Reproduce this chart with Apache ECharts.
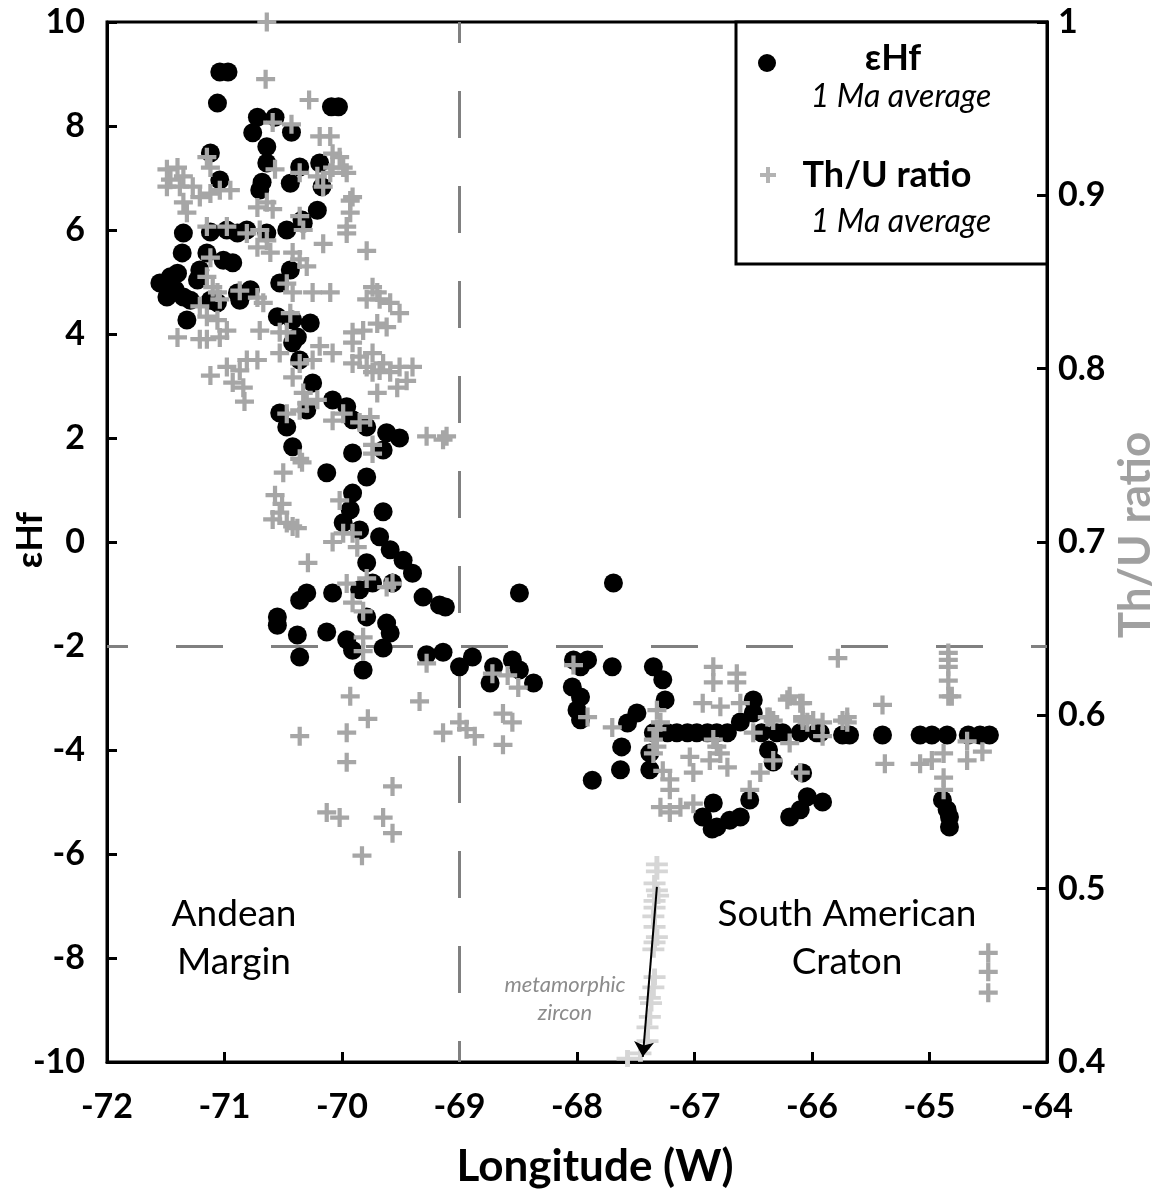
<!DOCTYPE html>
<html><head><meta charset="utf-8">
<script src="https://cdn.jsdelivr.net/npm/echarts@6/dist/echarts.min.js"></script>
<style>html,body{margin:0;padding:0;background:#fff}#c{width:1166px;height:1195px}</style>
</head><body><div id="c"></div>
<script>
// εHf (1 Ma average) : longitude, value
const hfLon = [-71.04,-70.97,-71.06,-70.09,-70.03,-70.72,-70.57,-70.43,-70.76,-70.64,-70.64,-70.68,-70.70,-70.44,-70.36,-70.19,-70.17,-70.21,-70.34,-70.47,-70.64,-70.81,-70.98,-71.12,-71.35,-71.36,-71.12,-71.04,-71.46,-71.49,-71.40,-71.32,-71.15,-71.01,-71.23,-71.12,-70.87,-70.78,-70.55,-70.42,-70.27,-70.44,-70.53,-70.38,
-71.55,-71.42,-71.29,-71.21,-70.89,-70.93,-71.35,-71.06,-70.89,-70.33,
-70.42,-70.36,-70.25,-70.08,-69.96,-70.53,-70.47,-70.30,-69.91,-69.79,-69.62,-69.51,-70.42,-69.91,-69.79,-69.65,-70.13,-69.91,-69.93,-69.65,-69.99,-69.85,-69.68,-69.59,-69.48,-69.40,-69.79,-70.30,-70.36,-70.08,-69.85,-69.74,-69.57,-69.31,-69.17,-70.55,-70.55,-70.38,-70.13,-69.96,-69.79,-69.62,-69.59,-69.65,-69.91,-70.36,-69.82,-69.28,-69.14,-69.00,-68.89,
-67.69,-68.49,-69.12,-68.71,-68.74,-68.55,-68.49,-68.37,-68.03,-67.91,-67.97,-68.04,-67.97,-68.00,-67.97,-67.70,-67.87,-67.35,-67.27,-67.25,-67.63,-67.62,-67.57,-67.49,-67.35,-67.38,-67.38,
-67.23,-67.15,-67.06,-66.98,-66.89,-66.81,-66.72,
-66.61,-66.50,-66.50,-66.43,-66.30,-66.37,-66.33,-66.10,-65.96,-66.08,-66.04,-66.19,-66.53,-66.84,-66.93,-66.81,-66.70,-66.61,-66.85,-65.91,-66.10,
-65.40,-65.08,-64.98,-64.85,-64.67,-64.57,-64.49,-64.89,-64.85,-64.83,-64.83,-65.74,-65.68,-66.25,-65.93];
const hfVal = [9.04,9.04,8.44,8.37,8.37,8.17,8.17,7.88,7.87,7.60,7.29,6.92,6.77,6.90,7.21,7.29,6.83,6.38,6.19,6.00,5.94,6.00,6.00,5.96,5.94,5.56,7.48,6.96,5.10,4.71,5.17,4.27,5.56,5.42,5.04,4.65,4.65,4.85,4.33,4.27,4.21,5.23,4.98,3.94,
4.98,4.85,4.65,5.23,5.94,5.37,4.71,4.60,4.79,6.13,
3.83,3.50,3.06,2.73,2.60,2.48,2.21,2.54,2.35,2.21,2.10,2.00,1.83,1.71,1.25,1.77,1.33,0.94,0.62,0.58,0.37,0.23,0.10,-0.15,-0.35,-0.60,-0.40,-0.98,-1.12,-0.98,-0.92,-0.79,-0.79,-1.06,-1.21,-1.44,-1.60,-1.79,-1.73,-1.88,-1.44,-1.56,-1.75,-2.04,-2.08,-2.21,-2.46,-2.17,-2.12,-2.40,-2.21,
-0.79,-0.98,-1.25,-2.40,-2.71,-2.27,-2.46,-2.71,-2.27,-2.27,-2.40,-2.79,-2.98,-3.23,-3.42,-2.40,-4.58,-2.40,-2.65,-3.04,-4.38,-3.94,-3.48,-3.29,-3.67,-4.06,-4.38,
-3.67,-3.67,-3.67,-3.67,-3.67,-3.67,-3.67,
-3.46,-3.04,-3.29,-3.67,-3.67,-4.00,-4.23,-3.67,-3.67,-4.44,-4.90,-5.29,-4.96,-5.02,-5.29,-5.48,-5.35,-5.29,-5.52,-5.00,-5.15,
-3.71,-3.71,-3.71,-3.71,-3.71,-3.71,-3.71,-4.96,-5.15,-5.29,-5.48,-3.71,-3.71,-3.67,-3.67];

// Th/U ratio (1 Ma average) : longitude, value
const thuLon = [-70.64,-70.65,-70.28,-70.59,-70.43,-70.19,-70.10,-70.08,-70.02,-70.08,-69.99,-70.10,-69.96,-70.21,-70.16,-70.57,-70.36,-71.15,-71.12,-71.49,-71.40,-71.35,-71.46,-71.38,-71.49,-71.27,-71.21,-71.12,-71.04,-70.95,-71.35,-71.32,-71.15,-70.98,-70.81,-70.72,-70.64,-70.59,-70.70,-70.64,-70.61,-70.72,-70.36,-70.33,-70.42,-70.36,-70.30,-70.16,-69.93,-69.93,-69.96,-69.96,-69.79,-69.91,
-71.12,-71.15,-71.10,-71.06,-71.04,-71.21,-71.15,-71.06,-70.98,-71.40,-71.21,-70.87,-70.72,-70.67,-70.47,-70.42,-70.25,-70.10,-70.44,-70.47,-70.70,-70.53,-69.74,-69.70,-69.79,-69.68,-69.59,-69.51,-69.91,-69.82,-69.70,-69.62,-69.74,
-71.15,-71.04,-70.98,-70.87,-70.81,-70.72,-71.12,-70.93,-70.84,-70.83,-70.53,-70.36,-70.25,-70.19,-70.08,-70.42,-70.33,-70.30,-70.21,-70.36,-70.47,-69.99,-70.08,-69.85,-69.76,-69.91,-69.85,-69.91,-69.79,-69.74,-69.68,-69.65,-69.59,-69.51,-69.40,-69.45,-69.70,-69.53,-69.28,-69.14,-69.11,-69.74,-69.74,-70.36,-70.34,-70.50,-70.57,-70.51,-70.53,-70.59,-70.47,-70.42,-70.38,-70.02,-69.99,-69.91,-70.08,-69.87,-70.29,-69.96,-69.79,-69.62,-69.57,-69.91,-69.82,-69.82,-69.82,-69.28,-69.93,-69.34,
-69.78,-69.96,-70.36,-69.96,-69.57,-70.13,-70.02,-69.65,-69.57,-69.83,-69.14,-69.00,-68.94,
-68.87,-68.63,-68.55,-68.63,-68.72,-68.59,-68.50,-68.03,-67.91,-67.70,-67.32,-67.29,-67.32,-67.35,-67.32,-67.35,-67.27,-67.21,-67.21,-67.29,-67.21,-67.12,-67.01,-67.04,-67.01,-66.84,-66.84,-66.64,-66.64,-66.93,-66.78,-66.61,-66.84,-66.81,-66.78,-66.87,-66.72,-66.53,-66.44,-66.38,-66.33,-66.21,-66.10,-66.08,-66.04,-66.19,-66.33,-66.10,-66.50,-66.36,
-65.78,-66.19,-66.08,-66.08,-65.99,-65.91,-65.91,-65.70,-65.70,-65.74,-65.40,-65.38,-65.08,-64.98,-64.88,-64.88,-64.88,-64.68,-64.68,-64.55,-64.84,-64.84,-64.84,-64.84,-64.84,-64.81,-64.50,-64.50,-64.50];
const thuVal = [1.000,0.967,0.955,0.942,0.941,0.934,0.934,0.924,0.922,0.916,0.916,0.913,0.913,0.911,0.905,0.915,0.913,0.922,0.916,0.915,0.916,0.911,0.909,0.905,0.905,0.905,0.899,0.901,0.903,0.903,0.896,0.890,0.882,0.882,0.878,0.893,0.896,0.892,0.880,0.874,0.867,0.870,0.888,0.880,0.867,0.863,0.859,0.872,0.897,0.890,0.882,0.878,0.868,0.899,
0.864,0.853,0.847,0.844,0.840,0.836,0.830,0.828,0.822,0.818,0.817,0.845,0.841,0.838,0.849,0.844,0.844,0.844,0.832,0.821,0.822,0.821,0.847,0.844,0.840,0.840,0.838,0.832,0.821,0.822,0.826,0.824,0.809,
0.817,0.818,0.801,0.799,0.805,0.805,0.796,0.792,0.789,0.781,0.809,0.803,0.805,0.813,0.809,0.795,0.786,0.780,0.782,0.776,0.774,0.774,0.770,0.769,0.772,0.815,0.807,0.803,0.801,0.798,0.799,0.803,0.798,0.801,0.801,0.793,0.786,0.789,0.761,0.759,0.761,0.756,0.751,0.748,0.746,0.740,0.727,0.722,0.717,0.713,0.711,0.709,0.708,0.724,0.705,0.705,0.700,0.697,0.688,0.676,0.679,0.674,0.676,0.665,0.660,0.645,0.637,0.630,0.611,0.608,
0.598,0.590,0.588,0.573,0.559,0.544,0.541,0.541,0.532,0.519,0.590,0.596,0.592,
0.588,0.601,0.596,0.583,0.624,0.623,0.616,0.629,0.599,0.593,0.603,0.596,0.592,0.586,0.582,0.578,0.568,0.563,0.557,0.547,0.544,0.547,0.549,0.576,0.567,0.628,0.619,0.624,0.619,0.607,0.605,0.607,0.586,0.582,0.578,0.574,0.570,0.557,0.567,0.599,0.597,0.609,0.607,0.597,0.596,0.584,0.574,0.567,0.590,0.599,
0.633,0.611,0.607,0.599,0.597,0.596,0.588,0.599,0.596,0.597,0.606,0.572,0.572,0.574,0.578,0.564,0.557,0.585,0.574,0.579,0.636,0.632,0.628,0.620,0.611,0.611,0.463,0.452,0.440];

// Th/U ratio, metamorphic zircon
const metaLon = [-67.32,-67.32,-67.34,-67.32,-67.31,-67.34,-67.34,-67.35,-67.34,-67.32,-67.34,-67.35,-67.34,-67.35,-67.38,-67.37,-67.38,-67.40,-67.40,-67.46,-67.57];
const metaVal = [0.514,0.510,0.503,0.499,0.496,0.493,0.489,0.484,0.478,0.472,0.469,0.465,0.449,0.443,0.437,0.434,0.426,0.420,0.412,0.405,0.402];

const xTicks = {min:-72, max:-64, step:1};
const hfTicks = {min:-10, max:10, step:2};
const thuTicks = {min:0.4, max:1, step:0.1};

const FONT = 'Lato, "Open Sans", sans-serif';
const PLUS = 'path://M7,0H11V7H18V11H11V18H7V11H0V7H7Z';
const pair = (xs, ys) => xs.map((x, i) => [x, ys[i]]);

const chart = echarts.init(document.getElementById('c'), null, {renderer: 'canvas'});
const axisCommon = {
  axisLine: {show: true, onZero: false, lineStyle: {color: '#000', width: 3}},
  axisTick: {show: true, inside: true, length: 10, lineStyle: {color: '#000', width: 3}},
  splitLine: {show: false},
  axisLabel: {color: '#000', fontFamily: FONT, fontWeight: 'bold', fontSize: 34}
};
const dash = {color: '#808080', width: 3, type: [47, 48], dashOffset: 26};

chart.setOption({
  animation: false,
  backgroundColor: '#fff',
  grid: {left: 107, right: 119, top: 22, bottom: 133, show: true, borderColor: '#000', borderWidth: 3},
  xAxis: Object.assign({}, axisCommon, {type: 'value', min: xTicks.min, max: xTicks.max, interval: xTicks.step,
    axisLabel: Object.assign({}, axisCommon.axisLabel, {margin: 28})}),
  yAxis: [
    Object.assign({}, axisCommon, {type: 'value', position: 'left', min: hfTicks.min, max: hfTicks.max, interval: hfTicks.step,
      axisLabel: Object.assign({}, axisCommon.axisLabel, {margin: 22})}),
    Object.assign({}, axisCommon, {type: 'value', position: 'right', min: thuTicks.min, max: thuTicks.max, interval: thuTicks.step,
      axisLabel: Object.assign({}, axisCommon.axisLabel, {margin: 11, formatter: v => {const r = Math.round(v * 10) / 10; return r === 1 ? '1' : r.toFixed(1);}})})
  ],
  series: [
    {type: 'scatter', name: 'εHf', yAxisIndex: 0, data: pair(hfLon, hfVal), symbol: 'circle', symbolSize: 19,
      itemStyle: {color: '#000', opacity: 1}, z: 2,
      markLine: {silent: true, symbol: 'none', label: {show: false}, lineStyle: dash, z: 1,
        data: [{xAxis: -69}, {yAxis: -2}]}},
    {type: 'scatter', name: 'Th/U ratio', yAxisIndex: 1, data: pair(thuLon, thuVal), symbol: PLUS, symbolSize: 19,
      itemStyle: {color: '#a6a6a6', opacity: 1}, z: 3},
    {type: 'scatter', name: 'metamorphic', yAxisIndex: 1, data: pair(metaLon, metaVal), symbol: PLUS, symbolSize: [22, 17],
      itemStyle: {color: '#d6d6d6', opacity: 1}, z: 3,
      markLine: {silent: true, symbol: ['none', 'arrow'], symbolSize: 15, label: {show: false},
        lineStyle: {color: '#000', width: 2, type: 'solid'}, z: 5,
        data: [[{coord: [-67.32, 0.501]}, {coord: [-67.44, 0.403]}]]}}
  ],
  graphic: [
    {type: 'text', x: 595, y: 1167, style: {text: 'Longitude (W)', font: 'bold 44px ' + FONT, fill: '#000', textAlign: 'center', textVerticalAlign: 'middle'}},
    {type: 'text', x: 30, y: 540, rotation: Math.PI / 2, style: {text: 'εHf', font: 'bold 36px ' + FONT, fill: '#000', textAlign: 'center', textVerticalAlign: 'middle'}},
    {type: 'text', x: 1136, y: 535, rotation: Math.PI / 2, style: {text: 'Th/U ratio', font: 'bold 44px ' + FONT, fill: '#a0a0a0', textAlign: 'center', textVerticalAlign: 'middle'}},
    {type: 'text', x: 234, y: 938, style: {text: 'Andean\nMargin', font: '37px ' + FONT, fill: '#000', textAlign: 'center', textVerticalAlign: 'middle', lineHeight: 48}},
    {type: 'text', x: 847, y: 938, style: {text: 'South American\nCraton', font: '37px ' + FONT, fill: '#000', textAlign: 'center', textVerticalAlign: 'middle', lineHeight: 48}},
    {type: 'text', x: 565, y: 999, style: {text: 'metamorphic\nzircon', font: 'italic 22px ' + FONT, fill: '#8c8c8c', textAlign: 'center', textVerticalAlign: 'middle', lineHeight: 28}},
    {type: 'group', z: 100, children: [
      {type: 'rect', shape: {x: 736, y: 22, width: 311, height: 242}, style: {fill: '#fff', stroke: '#000', lineWidth: 3}},
      {type: 'circle', shape: {cx: 767, cy: 63, r: 9}, style: {fill: '#000'}},
      {type: 'text', x: 893, y: 58, style: {text: 'εHf', font: 'bold 36px ' + FONT, fill: '#000', textAlign: 'center', textVerticalAlign: 'middle'}},
      {type: 'text', x: 901, y: 97, style: {text: '1 Ma average', font: 'italic 32px ' + FONT, fill: '#000', textAlign: 'center', textVerticalAlign: 'middle'}},
      {type: 'rect', shape: {x: 760, y: 173, width: 16, height: 4}, style: {fill: '#b3b3b3'}},
      {type: 'rect', shape: {x: 766, y: 167, width: 4, height: 16}, style: {fill: '#b3b3b3'}},
      {type: 'text', x: 887, y: 175, style: {text: 'Th/U ratio', font: 'bold 36px ' + FONT, fill: '#000', textAlign: 'center', textVerticalAlign: 'middle'}},
      {type: 'text', x: 901, y: 222, style: {text: '1 Ma average', font: 'italic 32px ' + FONT, fill: '#000', textAlign: 'center', textVerticalAlign: 'middle'}}
    ]}
  ]
});
</script></body></html>
